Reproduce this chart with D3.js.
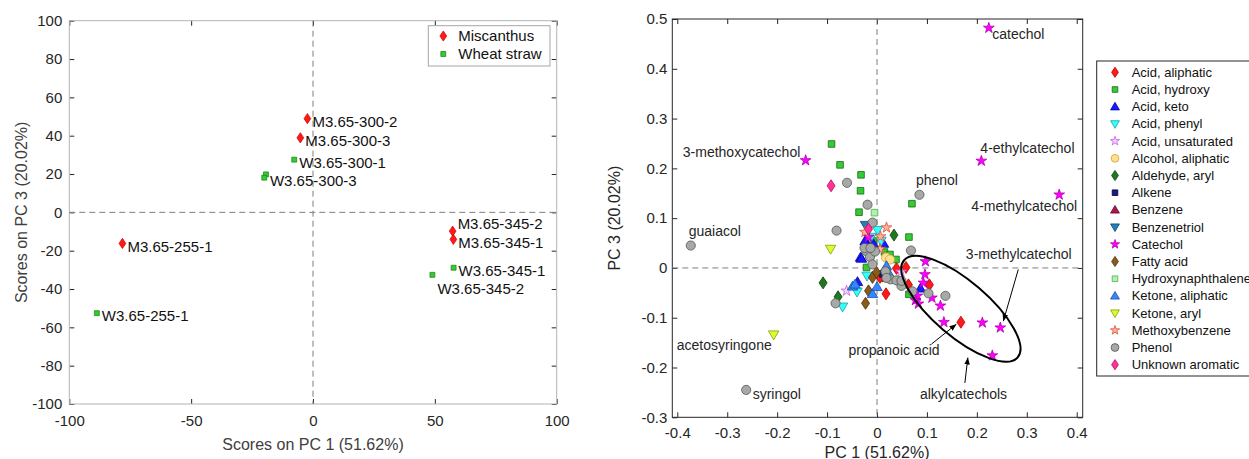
<!DOCTYPE html>
<html>
<head>
<meta charset="utf-8">
<script src="https://cdn.jsdelivr.net/npm/d3@7"></script>
<style>
  body { margin: 0; background: #fff; }
  svg { font-family: "Liberation Sans", Arial, sans-serif; }
</style>
</head>
<body>
<svg width="1249" height="459"></svg>
<script>
// ---- left panel: sample scores ---------------------------------------------
var sampleNames = ['M3.65-300-2', 'M3.65-300-3', 'W3.65-300-1', 'W3.65-300-3', 'W3.65-300-3b',
  'M3.65-255-1', 'W3.65-255-1', 'M3.65-345-2', 'M3.65-345-1', 'W3.65-345-1', 'W3.65-345-2'];
var samplePC1 = [-2.3, -5.2, -7.7, -19.3, -20.0, -78.2, -88.7, 57.3, 57.6, 57.7, 49.0];
var samplePC3 = [48.9, 38.9, 27.5, 19.8, 18.1, -16.2, -52.6, -9.8, -14.1, -28.9, -32.6];
var sampleGroup = ['Miscanthus', 'Miscanthus', 'Wheat straw', 'Wheat straw', 'Wheat straw',
  'Miscanthus', 'Wheat straw', 'Miscanthus', 'Miscanthus', 'Wheat straw', 'Wheat straw'];
var groups = ['Miscanthus', 'Wheat straw'];
var scoreTicksX = [-100, -50, 0, 50, 100];
var scoreTicksY = [-100, -80, -60, -40, -20, 0, 20, 40, 60, 80, 100];

// ---- right panel: loadings by compound class --------------------------------
var acidAliphatic = [[0.168, -0.109], [0.058, 0.001], [0.063, -0.034], [0.105, -0.034], [0.018, -0.052], [0.039, -0.001], [0.006, -0.019]];
var acidHydroxy = [[-0.091, 0.249], [-0.074, 0.207], [-0.032, 0.187], [-0.033, 0.155], [-0.036, 0.112], [0.070, 0.129], [0.064, 0.062],
  [0.015, 0.032], [0.026, 0.027], [0.038, 0.017], [0.064, -0.053], [-0.021, 0.001], [-0.007, 0.054]];
var acidKeto = [[-0.033, 0.021], [-0.021, 0.051], [-0.007, 0.048], [0.013, 0.049], [-0.024, 0.054], [-0.039, -0.028], [0.087, -0.041], [-0.031, 0.019]];
var acidPhenyl = [[0.001, 0.076], [0.008, 0.054], [-0.020, -0.016], [-0.040, -0.048], [-0.069, -0.078], [-0.012, 0.062]];
var acidUnsaturated = [[-0.061, -0.046], [0.048, -0.008]];
var alcoholAliphatic = [[0.018, 0.021], [0.026, 0.017]];
var aldehydeAryl = [[0.034, 0.066], [-0.108, -0.030], [-0.078, -0.058]];
var alkene = [[0.012, -0.012]];
var benzene = [[0.020, -0.020]];
var benzenetriol = [[-0.023, 0.086]];
var catechol = [[0.224, 0.482], [0.209, 0.215], [0.365, 0.147], [-0.143, 0.216], [0.097, 0.013], [0.096, -0.013], [0.093, -0.030],
  [0.110, -0.060], [0.081, -0.056], [0.077, -0.065], [0.083, -0.072], [0.127, -0.076], [0.134, -0.109], [0.211, -0.110],
  [0.247, -0.120], [0.231, -0.176], [-0.017, 0.062]];
var fattyAcid = [[-0.009, -0.019], [-0.001, -0.009], [-0.017, -0.046], [-0.023, -0.071]];
var hydroxynaphthalene = [[-0.005, 0.111]];
var ketoneAliphatic = [[-0.009, -0.052], [0.000, -0.038], [-0.049, -0.037], [0.019, 0.004], [-0.044, -0.033], [0.023, -0.009]];
var ketoneAryl = [[-0.093, 0.038], [-0.207, -0.134]];
var methoxybenzene = [[0.019, 0.081], [0.007, 0.063], [-0.024, 0.072], [0.006, 0.038]];
var phenol = [[-0.373, 0.045], [-0.262, -0.245], [0.085, 0.147], [-0.060, 0.171], [-0.019, 0.127], [-0.009, 0.091], [-0.081, 0.075],
  [0.068, 0.035], [-0.083, -0.071], [0.137, -0.056], [0.103, -0.051], [0.071, -0.047], [-0.022, 0.034], [-0.014, 0.022],
  [-0.004, 0.033], [-0.009, 0.007], [0.017, -0.007], [0.027, -0.023], [0.039, -0.025], [0.049, -0.036], [0.019, -0.020],
  [0.049, -0.026], [-0.025, 0.040], [-0.013, 0.040]];
var unknownAromatic = [[-0.092, 0.165], [-0.017, 0.078]];

var classNames = ['Acid, aliphatic', 'Acid, hydroxy', 'Acid, keto', 'Acid, phenyl', 'Acid, unsaturated',
  'Alcohol, aliphatic', 'Aldehyde, aryl', 'Alkene', 'Benzene', 'Benzenetriol', 'Catechol', 'Fatty acid',
  'Hydroxynaphthalene', 'Ketone, aliphatic', 'Ketone, aryl', 'Methoxybenzene', 'Phenol', 'Unknown aromatic'];
var classPoints = [acidAliphatic, acidHydroxy, acidKeto, acidPhenyl, acidUnsaturated, alcoholAliphatic, aldehydeAryl,
  alkene, benzene, benzenetriol, catechol, fattyAcid, hydroxynaphthalene, ketoneAliphatic, ketoneAryl,
  methoxybenzene, phenol, unknownAromatic];

var compoundLabels = ['catechol', '4-ethylcatechol', '4-methylcatechol', 'phenol', '3-methoxycatechol', 'guaiacol',
  '3-methylcatechol', 'acetosyringone', 'propanoic acid', 'syringol', 'alkylcatechols'];
var compoundLabelX = [0.231, 0.207, 0.189, 0.078, -0.389, -0.377, 0.178, -0.401, -0.057, -0.249, 0.086];
var compoundLabelY = [0.470, 0.241, 0.125, 0.177, 0.232, 0.074, 0.028, -0.155, -0.165, -0.253, -0.253];

// arrows: [x0, y0, x1, y1] in loading units
var arrows = [[0.283, -0.003, 0.253, -0.107], [0.109, -0.153, 0.159, -0.113], [0.176, -0.231, 0.182, -0.180]];
var ellipseCentre = [0.168, -0.082];

var loadTicksX = [-0.4, -0.3, -0.2, -0.1, 0, 0.1, 0.2, 0.3, 0.4];
var loadTicksY = [-0.3, -0.2, -0.1, 0, 0.1, 0.2, 0.3, 0.4, 0.5];

// ---- styles ---------------------------------------------------------------
var groupStyle = {
  'Miscanthus': { shape: 'diamond', fill: '#ff1a1a', stroke: '#cc0000' },
  'Wheat straw': { shape: 'square', fill: '#33cc33', stroke: '#1a7a1a' }
};
var classStyle = {
  'Acid, aliphatic': { shape: 'diamond', fill: '#ff1a1a', stroke: '#b30000' },
  'Acid, hydroxy': { shape: 'square', fill: '#33cc33', stroke: '#1a661a' },
  'Acid, keto': { shape: 'up', fill: '#1a1aff', stroke: '#0000a0' },
  'Acid, phenyl': { shape: 'down', fill: '#33ffff', stroke: '#20a0a0' },
  'Acid, unsaturated': { shape: 'star', fill: '#f3d6ff', stroke: '#c060e0' },
  'Alcohol, aliphatic': { shape: 'circle', fill: '#ffe08c', stroke: '#d0a040' },
  'Aldehyde, aryl': { shape: 'diamond', fill: '#1f7a1f', stroke: '#0a3d0a' },
  'Alkene': { shape: 'square', fill: '#1a1a80', stroke: '#000040' },
  'Benzene': { shape: 'up', fill: '#a6194d', stroke: '#600a2a' },
  'Benzenetriol': { shape: 'down', fill: '#2080c0', stroke: '#104060' },
  'Catechol': { shape: 'star', fill: '#ff00ff', stroke: '#b000b0' },
  'Fatty acid': { shape: 'diamond', fill: '#8c5a1a', stroke: '#4a2f0a' },
  'Hydroxynaphthalene': { shape: 'square', fill: '#b0f0b0', stroke: '#50b050' },
  'Ketone, aliphatic': { shape: 'up', fill: '#3388ff', stroke: '#1a50a0' },
  'Ketone, aryl': { shape: 'down', fill: '#d4ff33', stroke: '#8a9a00' },
  'Methoxybenzene': { shape: 'star', fill: '#ffb0a0', stroke: '#e05030' },
  'Phenol': { shape: 'circle', fill: '#a8a8a8', stroke: '#4d5a4d' },
  'Unknown aromatic': { shape: 'diamond', fill: '#ff3399', stroke: '#b0105a' }
};
// label nudges for the score plot [dx, dy] in px
var sampleLabelNudge = {
  'M3.65-345-2': [5, -7], 'W3.65-345-2': [5, 14], 'W3.65-300-3': [4, 6]
};

function shapePath(shape, k) {
  k = k || 1;
  if (shape === 'diamond') { var w = 4 * k, h = 6 * k; return 'M0,' + -h + 'L' + w + ',0L0,' + h + 'L' + -w + ',0Z'; }
  if (shape === 'square') { var s = 3.3 * k; return 'M' + -s + ',' + -s + 'H' + s + 'V' + s + 'H' + -s + 'Z'; }
  if (shape === 'up') { var a = 5.2 * k; return 'M0,' + -a + 'L' + a + ',' + a * 0.72 + 'L' + -a + ',' + a * 0.72 + 'Z'; }
  if (shape === 'down') { var b = 5.2 * k; return 'M0,' + b + 'L' + b + ',' + -b * 0.72 + 'L' + -b + ',' + -b * 0.72 + 'Z'; }
  if (shape === 'star') return d3.symbol(d3.symbolStar, 36 * k * k)();
  return d3.symbol(d3.symbolCircle, 66 * k * k)();
}

var svg = d3.select('svg');
svg.append('rect').attr('width', 1249).attr('height', 459).attr('fill', '#fff');

function frame(g, x, y, ticksX, ticksY, fmtX, fmtY, boxColor, padX, padY) {
  var x0 = x.range()[0], x1 = x.range()[1], y0 = y.range()[0], y1 = y.range()[1];
  var axes = [
    [d3.axisBottom(x).tickValues(ticksX).tickFormat(fmtX).tickPadding(padX), 'translate(0,' + y0 + ')'],
    [d3.axisTop(x).tickValues(ticksX).tickFormat(''), 'translate(0,' + y1 + ')'],
    [d3.axisLeft(y).tickValues(ticksY).tickFormat(fmtY).tickPadding(padY), 'translate(' + x0 + ',0)'],
    [d3.axisRight(y).tickValues(ticksY).tickFormat(''), 'translate(' + x1 + ',0)']
  ];
  axes.forEach(function (a) {
    var ax = g.append('g').attr('transform', a[1])
      .call(a[0].tickSizeInner(-5).tickSizeOuter(0));
    ax.select('.domain').remove();
    ax.selectAll('line').attr('stroke', '#262626');
    ax.selectAll('text').attr('fill', '#262626').style('font-size', '15px')
      .style('font-family', '"Liberation Sans", Arial, sans-serif');
  });
  g.append('rect').attr('x', x0).attr('y', y1).attr('width', x1 - x0).attr('height', y0 - y1)
    .attr('fill', 'none').attr('stroke', boxColor).attr('stroke-width', 1);
  // dashed zero lines
  g.append('line').attr('x1', x(0)).attr('x2', x(0)).attr('y1', y1).attr('y2', y0)
    .attr('stroke', '#7f7f7f').attr('stroke-dasharray', '6,4');
  g.append('line').attr('x1', x0).attr('x2', x1).attr('y1', y(0)).attr('y2', y(0))
    .attr('stroke', '#7f7f7f').attr('stroke-dasharray', '6,4');
}

// plain hyphen minus, as in the original figure
var fmtInt = function (d) { return String(d); };
var fmt1 = function (d) { return Math.abs(d) < 1e-9 ? '0' : d.toFixed(1); };

// ---- left panel -------------------------------------------------------------
var xS = d3.scaleLinear().domain([-100, 100]).range([69.3, 556.7]);
var yS = d3.scaleLinear().domain([-100, 100]).range([404, 20.7]);
var left = svg.append('g');
frame(left, xS, yS, scoreTicksX, scoreTicksY, fmtInt, fmtInt, '#b3b3b3', 11, 7);

var samples = sampleNames.map(function (n, i) {
  return { name: n, x: samplePC1[i], y: samplePC3[i], group: sampleGroup[i] };
});
left.selectAll('path.pt').data(samples).enter().append('path')
  .attr('transform', function (d) { return 'translate(' + xS(d.x) + ',' + yS(d.y) + ')'; })
  .attr('d', function (d) { return shapePath(groupStyle[d.group].shape, d.group === 'Miscanthus' ? 0.85 : 0.75); })
  .attr('fill', function (d) { return groupStyle[d.group].fill; })
  .attr('stroke', function (d) { return groupStyle[d.group].stroke; })
  .attr('stroke-width', 0.7);
left.selectAll('text.lab').data(samples.filter(function (d) { return d.name.slice(-1) !== 'b'; }))
  .enter().append('text')
  .attr('x', function (d) { return xS(d.x) + (sampleLabelNudge[d.name] ? sampleLabelNudge[d.name][0] : 5); })
  .attr('y', function (d) { return yS(d.y) + (sampleLabelNudge[d.name] ? sampleLabelNudge[d.name][1] : 3); })
  .attr('dy', '0.35em').style('font-size', '15px').attr('fill', '#111')
  .text(function (d) { return d.name; });

left.append('text').attr('x', xS(0)).attr('y', 444).attr('dy', '0.35em').attr('text-anchor', 'middle')
  .style('font-size', '16px').attr('fill', '#404040').text('Scores on PC 1 (51.62%)');
left.append('text').attr('transform', 'translate(21,' + yS(0) + ') rotate(-90)').attr('dy', '0.35em')
  .attr('text-anchor', 'middle').style('font-size', '16px').attr('fill', '#404040').text('Scores on PC 3 (20.02%)');

var lg = left.append('g');
lg.append('rect').attr('x', 428.3).attr('y', 25.7).attr('width', 121.7).attr('height', 40.3)
  .attr('fill', '#fff').attr('stroke', '#a6a6a6');
groups.forEach(function (gname, i) {
  var cy = 36 + i * 18;
  lg.append('path').attr('transform', 'translate(443.3,' + cy + ')')
    .attr('d', shapePath(groupStyle[gname].shape, gname === 'Miscanthus' ? 0.85 : 0.75))
    .attr('fill', groupStyle[gname].fill).attr('stroke', groupStyle[gname].stroke).attr('stroke-width', 0.7);
  lg.append('text').attr('x', 458.3).attr('y', cy).attr('dy', '0.35em').style('font-size', '15px')
    .attr('fill', '#111').text(gname);
});

// ---- right panel ------------------------------------------------------------
var xL = d3.scaleLinear().domain([-0.41, 0.412]).range([672.3, 1082.7]);
var yL = d3.scaleLinear().domain([-0.3, 0.5]).range([417.3, 19]);
var right = svg.append('g');
frame(right, xL, yL, loadTicksX, loadTicksY, fmt1, fmt1, '#262626', 10, 5);

classNames.forEach(function (cname, i) {
  var st = classStyle[cname];
  right.append('g').selectAll('path').data(classPoints[i]).enter().append('path')
    .attr('transform', function (d) { return 'translate(' + xL(d[0]) + ',' + yL(d[1]) + ')'; })
    .attr('d', shapePath(st.shape, 1))
    .attr('fill', st.fill).attr('stroke', st.stroke).attr('stroke-width', 0.8);
});

// ellipse round the alkylcatechols
right.append('ellipse')
  .attr('transform', 'translate(' + xL(ellipseCentre[0]) + ',' + yL(ellipseCentre[1]) + ') rotate(40.5)')
  .attr('rx', 74.7).attr('ry', 27.5).attr('fill', 'none').attr('stroke', '#000').attr('stroke-width', 2);

svg.append('defs').append('marker').attr('id', 'head').attr('viewBox', '0 0 10 10')
  .attr('refX', 10).attr('refY', 5).attr('markerWidth', 7).attr('markerHeight', 7).attr('orient', 'auto')
  .append('path').attr('d', 'M0,1L10,5L0,9Z').attr('fill', '#000');
right.selectAll('line.arr').data(arrows).enter().append('line')
  .attr('x1', function (d) { return xL(d[0]); }).attr('y1', function (d) { return yL(d[1]); })
  .attr('x2', function (d) { return xL(d[2]); }).attr('y2', function (d) { return yL(d[3]); })
  .attr('stroke', '#000').attr('stroke-width', 1).attr('marker-end', 'url(#head)');

right.selectAll('text.cl').data(compoundLabels).enter().append('text')
  .attr('x', function (d, i) { return xL(compoundLabelX[i]); })
  .attr('y', function (d, i) { return yL(compoundLabelY[i]); })
  .attr('dy', '0.35em').style('font-size', '14px').attr('fill', '#262626')
  .text(function (d) { return d; });

right.append('text').attr('x', xL(0)).attr('y', 452).attr('dy', '0.35em').attr('text-anchor', 'middle')
  .style('font-size', '16px').attr('fill', '#262626').text('PC 1 (51.62%)');
right.append('text').attr('transform', 'translate(614,' + (yL(0.5) + yL(-0.3)) / 2 + ') rotate(-90)').attr('dy', '0.35em')
  .attr('text-anchor', 'middle').style('font-size', '16px').attr('fill', '#262626').text('PC 3 (20.02%)');

// legend
var rl = svg.append('g');
rl.append('rect').attr('x', 1096.7).attr('y', 61).attr('width', 170).attr('height', 315)
  .attr('fill', '#fff').attr('stroke', '#262626');
classNames.forEach(function (cname, i) {
  var st = classStyle[cname], cy = 72.3 + i * 17.2;
  rl.append('path').attr('transform', 'translate(1115,' + cy + ')').attr('d', shapePath(st.shape, 0.85))
    .attr('fill', st.fill).attr('stroke', st.stroke).attr('stroke-width', 0.8);
  rl.append('text').attr('x', 1131.7).attr('y', cy).attr('dy', '0.35em').style('font-size', '13px')
    .attr('fill', '#111').text(cname);
});
</script>
</body>
</html>
